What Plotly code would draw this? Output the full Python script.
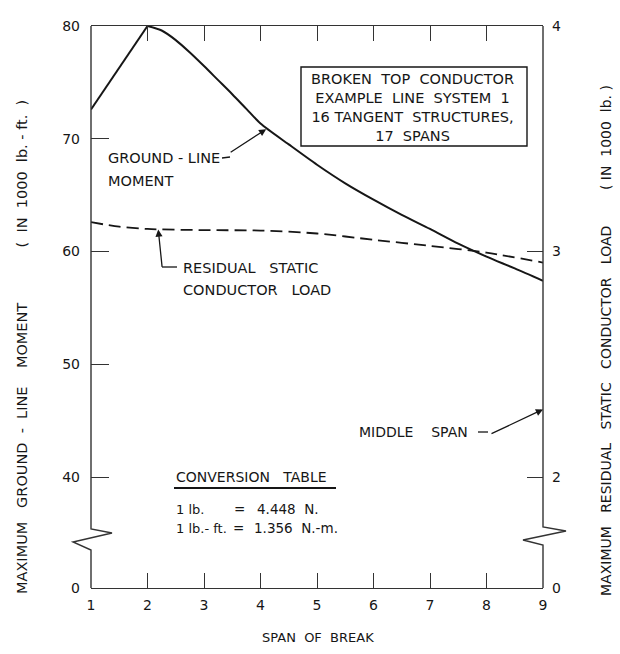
import plotly.graph_objects as go

# ---------------- data ----------------
span = [1, 2, 2.25, 2.5, 2.75, 3, 3.25, 3.5, 3.75, 4, 4.5, 5, 5.5, 6, 6.5, 7, 7.5, 8, 8.5, 9]
ground_line_moment = [72.6, 80.0, 79.6, 78.75, 77.65, 76.45, 75.2, 73.95, 72.65, 71.35, 69.5,
                      67.7, 66.05, 64.6, 63.25, 62.0, 60.7, 59.55, 58.5, 57.4]
load_span = [1, 1.5, 2, 3, 4, 5, 6, 7, 8, 9]
residual_load = [3.13, 3.11, 3.10, 3.095, 3.093, 3.08, 3.052, 3.025, 2.995, 2.951]

x_ticks = [1, 2, 3, 4, 5, 6, 7, 8, 9]
x_tick_labels = ["1", "2", "3", "4", "5", "6", "7", "8", "9"]
left_ticks = [40, 50, 60, 70, 80]
left_tick_labels = ["40", "50", "60", "70", "80"]
right_ticks = [2, 3, 4]
right_tick_labels = ["2", "3", "4"]

# broken axes: where the "0" label sits on each (compressed) axis
LEFT_ZERO_POS = 30.16
RIGHT_ZERO_POS = 1.508

FONT = "DejaVu Sans, Liberation Sans, sans-serif"
INK = "#161616"
AX = "#333333"

# plot area in page pixels
PL, PR, PT, PB = 91, 543, 26, 588


def P(x, y):
    return (x - PL) / (PR - PL), (PB - y) / (PB - PT)


fig = go.Figure()
# rising part (straight) and the smooth falling part of the moment curve
fig.add_trace(go.Scatter(x=span[:2], y=ground_line_moment[:2], mode="lines",
                         line=dict(color=INK, width=2), yaxis="y", showlegend=False))
fig.add_trace(go.Scatter(x=span[1:], y=ground_line_moment[1:], mode="lines",
                         line=dict(color=INK, width=2, shape="spline", smoothing=0.8),
                         yaxis="y", showlegend=False))
fig.add_trace(go.Scatter(x=load_span, y=residual_load, mode="lines",
                         line=dict(color=INK, width=1.8, dash="12px,6px", shape="spline",
                                   smoothing=0.8),
                         yaxis="y2", showlegend=False))

shapes = []


def path(points, width=1.4, color=AX):
    pts = [P(x, y) for x, y in points]
    d = "M " + " L ".join(f"{a:.5f},{b:.5f}" for a, b in pts)
    shapes.append(dict(type="path", path=d, xref="paper", yref="paper",
                       line=dict(color=color, width=width), layer="above"))


# frame sides with break symbols
path([(91, 26), (91, 529), (112, 533), (73, 542), (91, 550), (91, 588)])
path([(543, 26), (543, 527), (566, 531), (523, 540), (543, 545), (543, 588)])
# leaders
path([(177, 267), (162, 267)], width=1.3, color=INK)
path([(222, 158), (230, 157)], width=1.3, color=INK)
path([(478, 432), (488, 432)], width=1.3, color=INK)
# conversion table underline
path([(174, 488), (336, 488)], width=2.2, color=INK)
# title box
x0, y0 = P(301, 67)
x1, y1 = P(527, 146)
shapes.append(dict(type="rect", xref="paper", yref="paper", x0=x0, y0=y0, x1=x1, y1=y1,
                   line=dict(color=INK, width=1.4), layer="above"))

annotations = []


def text(s, x, y, size=14.5, anchor="left", angle=0, align="left"):
    ax_, ay_ = P(x, y)
    annotations.append(dict(text=s, x=ax_, y=ay_, xref="paper", yref="paper",
                            xanchor=anchor, yanchor="middle", showarrow=False,
                            textangle=angle, align=align,
                            font=dict(family=FONT, size=size, color=INK)))


S = "\u00a0"
S2 = S * 2
S3 = S * 3
text(f"BROKEN{S2}TOP{S2}CONDUCTOR<br>EXAMPLE{S2}LINE{S2}SYSTEM{S2}1<br>16{S}TANGENT{S2}STRUCTURES,<br>17{S2}SPANS",
     412, 107, size=14.5, anchor="center", align="center")
text(f"GROUND{S}-{S}LINE", 106, 158)
text("MOMENT", 106, 181)
text(f"RESIDUAL{S3}STATIC", 181, 268)
text(f"CONDUCTOR{S3}LOAD", 181, 290)
text(f"MIDDLE{S*4}SPAN", 357, 432, size=14)
text(f"CONVERSION{S3}TABLE", 174, 477, size=14)
text(f"1{S}lb.", 174, 509, size=13)
text("=", 232, 509, size=13.5)
text(f"4.448{S2}N.", 255, 509, size=13.5)
text(f"1{S}lb.-{S}ft.", 174, 528, size=13)
text("=", 231, 528, size=13.5)
text(f"1.356{S2}N.-m.", 252, 528, size=13.5)
text(f"SPAN{S2}OF{S2}BREAK", 318, 637, size=13, anchor="center")
text(f"MAXIMUM{S3}GROUND{S2}-{S2}LINE{S*4}MOMENT{S*12}({S2}IN{S2}1000{S2}lb.{S}-{S}ft.{S2})",
     22, 347, size=14.5, anchor="center", angle=-90)
text(f"MAXIMUM{S3}RESIDUAL{S3}STATIC{S3}CONDUCTOR{S3}LOAD{S*8}({S}IN{S2}1000{S2}lb.{S})",
     606, 341, size=14, anchor="center", angle=-90)

# arrows
annotations.append(dict(x=4.1, y=70.85, xref="x", yref="y", text="", showarrow=True,
                        ax=230 - 267, ay=157 - 133, arrowhead=2, arrowsize=1.1,
                        arrowwidth=1.3, arrowcolor=INK))
annotations.append(dict(x=2.19, y=3.098, xref="x", yref="y2", text="", showarrow=True,
                        ax=162 - 158, ay=267 - 228, arrowhead=2, arrowsize=1.1,
                        arrowwidth=1.3, arrowcolor=INK))
annotations.append(dict(x=9, y=2.30, xref="x", yref="y2", text="", showarrow=True,
                        ax=488 - 541, ay=432 - 407, arrowhead=2, arrowsize=1.1,
                        arrowwidth=1.3, arrowcolor=INK))

tickfont = dict(family=FONT, size=14, color=INK)
fig.update_layout(
    width=620, height=654, autosize=False,
    margin=dict(l=PL, r=620 - PR, t=PT, b=654 - PB, pad=0),
    paper_bgcolor="white", plot_bgcolor="white",
    showlegend=False,
    xaxis=dict(range=[1, 9], tickvals=x_ticks, ticktext=x_tick_labels,
               showline=True, mirror="ticks", linecolor=AX, linewidth=1.4,
               ticks="inside", ticklen=15, tickwidth=1.4, tickcolor=AX,
               showgrid=False, zeroline=False, tickfont=tickfont,
               ticklabelstandoff=4),
    yaxis=dict(range=[LEFT_ZERO_POS, 80], tickvals=[LEFT_ZERO_POS] + left_ticks,
               ticktext=["0"] + left_tick_labels,
               showline=False, ticks="inside", ticklen=18, tickwidth=1.4, tickcolor=AX,
               showgrid=False, zeroline=False, tickfont=tickfont, ticklabelstandoff=10),
    yaxis2=dict(range=[RIGHT_ZERO_POS, 4], tickvals=[RIGHT_ZERO_POS] + right_ticks,
                ticktext=["0"] + right_tick_labels,
                overlaying="y", side="right",
                showline=False, ticks="inside", ticklen=16, tickwidth=1.4, tickcolor=AX,
                showgrid=False, zeroline=False, tickfont=tickfont, ticklabelstandoff=8),
    shapes=shapes,
    annotations=annotations,
)

fig.write_html("out.html")
